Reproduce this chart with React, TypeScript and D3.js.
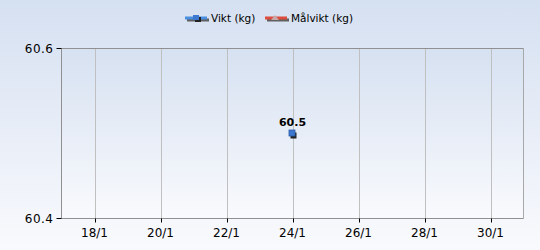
import React from "react";
import * as d3 from "d3";

const xTickDays = [18, 20, 22, 24, 26, 28, 30];
const xTickLabels = ["18/1", "20/1", "22/1", "24/1", "26/1", "28/1", "30/1"];
const yTicks = [60.4, 60.6];
const yTickLabels = ["60.4", "60.6"];
const viktDays = [24];
const viktValues = [60.5];
const legendNames = ["Vikt (kg)", "Målvikt (kg)"];

const W = 540, H = 250;
const L = 61.5, R = 523.5, T = 48.5, B = 218.5;
const font = "DejaVu Sans, Verdana, sans-serif";

export default function App() {
  const x = d3.scaleLinear().domain([17, 31]).range([L, R]);
  const y = d3.scaleLinear().domain([60.4, 60.6]).range([B, T]);
  return (
    <svg width={W} height={H} style={{ position: "absolute", left: 0, top: 0 }}>
      <defs>
        <linearGradient id="bg" x1="0" y1="0" x2="0" y2="1">
          <stop offset="0" stopColor="#d5e0f1" />
          <stop offset="1" stopColor="#f9fafd" />
        </linearGradient>
        <linearGradient id="pa" x1="0" y1="0" x2="0" y2="1">
          <stop offset="0" stopColor="#d6e1f1" />
          <stop offset="1" stopColor="#f9fafd" />
        </linearGradient>
      </defs>
      <rect x={0} y={0} width={W} height={H} fill="url(#bg)" />
      <rect x={L} y={T} width={R - L} height={B - T} fill="url(#pa)" />
      {xTickDays.map((d) => (
        <line key={d} x1={Math.round(x(d)) + 0.5} x2={Math.round(x(d)) + 0.5} y1={T} y2={B} stroke="#c0c0c0" />
      ))}
      <line x1={R} x2={R} y1={T} y2={B} stroke="#a8a8a8" />
      <line x1={L} x2={R} y1={T} y2={T} stroke="#909090" />
      <line x1={L} x2={L} y1={T} y2={B} stroke="#909090" />
      <line x1={L} x2={R} y1={B} y2={B} stroke="#909090" />
      {yTicks.map((v, i) => (
        <g key={v}>
          <line x1={L - 5} x2={L} y1={y(v)} y2={y(v)} stroke="#000" />
          <text x={L - 8} y={y(v) + 4} textAnchor="end" fontFamily={font} fontSize={12} fill="#000" letterSpacing={0.5}>
            {yTickLabels[i]}
          </text>
        </g>
      ))}
      {xTickDays.map((d, i) => (
        <g key={d}>
          <line x1={Math.round(x(d)) + 0.5} x2={Math.round(x(d)) + 0.5} y1={B} y2={B + 4} stroke="#000" />
          <text x={x(d)} y={B + 18} textAnchor="middle" fontFamily={font} fontSize={12} fill="#000">
            {xTickLabels[i]}
          </text>
        </g>
      ))}
      {viktDays.map((d, i) => {
        const cx = x(d), cy = y(viktValues[i]);
        return (
          <g key={d}>
            <rect x={cx - 2} y={cy - 1} width={6} height={6} fill="#222" />
            <rect x={cx - 3.5} y={cy - 3.5} width={6} height={6} fill="#3d78d0" stroke="#2a5aa8" strokeWidth={0.8} />
            <text x={cx} y={cy - 8} textAnchor="middle" fontFamily={font} fontSize={11} fontWeight="bold" fill="#000">
              {viktValues[i].toFixed(1)}
            </text>
          </g>
        );
      })}
      {/* legend */}
      <g>
        <line x1={187} x2={209} y1={20} y2={20} stroke="#606060" strokeWidth={3} />
        <line x1={185} x2={207} y1={18} y2={18} stroke="#4a8ee0" strokeWidth={3} />
        <rect x={195} y={17} width={6} height={5} fill="#222" />
        <rect x={193} y={15} width={6} height={5} fill="#3d78d0" />
        <text x={211} y={22} fontFamily={font} fontSize={10.5} fill="#000">{legendNames[0]}</text>
        <line x1={267} x2={289} y1={20} y2={20} stroke="#606060" strokeWidth={3} />
        <line x1={265} x2={287} y1={18} y2={18} stroke="#dd4c3c" strokeWidth={3} />
        <path d="M275,15 L279,20 L271,20 Z" fill="#c8a8a8" />
        <text x={291} y={22} fontFamily={font} fontSize={10.5} fill="#000">{legendNames[1]}</text>
      </g>
    </svg>
  );
}
